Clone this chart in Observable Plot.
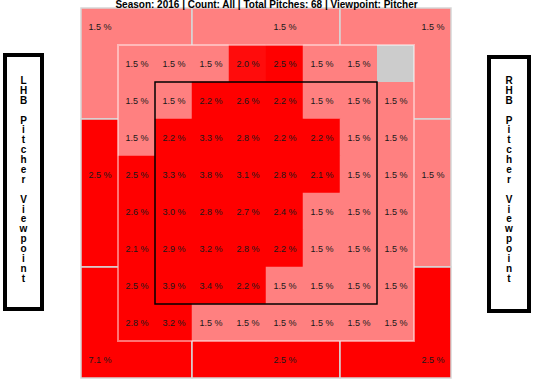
<!DOCTYPE html>
<html>
<head>
<meta charset="utf-8">
<script src="https://cdn.jsdelivr.net/npm/d3@7"></script>
<script src="https://cdn.jsdelivr.net/npm/@observablehq/plot@0.6"></script>
<style>
  html, body { margin: 0; padding: 0; background: #fff; }
  #wrap { position: relative; width: 540px; height: 385px; overflow: hidden; font-family: "Liberation Sans", Arial, sans-serif; }
  #chart { position: absolute; left: 0; top: 0; }
  .side { position: absolute; box-sizing: border-box; border: 4px solid #000; background: #fff; }
  .side .txt { position: absolute; left: 0; right: 0; text-align: center; font-weight: bold; font-size: 10px; color: #000; }
  .side .txt span { display: block; height: 9.9px; line-height: 9.9px; }
</style>
</head>
<body>
<div id="wrap">
  <div id="chart"></div>
  <div class="side" id="leftBox" style="left:3px; top:53px; width:41px; height:258px;"><div class="txt" style="top:19px;"></div></div>
  <div class="side" id="rightBox" style="left:487px; top:55px; width:44px; height:258px;"><div class="txt" style="top:17px;"></div></div>
</div>
<script>
// ---- data ----
const titleText = "Season: 2016 | Count: All | Total Pitches: 68 | Viewpoint: Pitcher";
const leftLabel = "LHB Pitcher Viewpoint";
const rightLabel = "RHB Pitcher Viewpoint";

// inner 8x8 grid (rows top -> bottom), null = no data (grey)
const row0 = [1.5, 1.5, 1.5, 2.0, 2.5, 1.5, 1.5, null];
const row1 = [1.5, 1.5, 2.2, 2.6, 2.2, 1.5, 1.5, 1.5];
const row2 = [1.5, 2.2, 3.3, 2.8, 2.2, 2.2, 1.5, 1.5];
const row3 = [2.5, 3.3, 3.8, 3.1, 2.8, 2.1, 1.5, 1.5];
const row4 = [2.6, 3.0, 2.8, 2.7, 2.4, 1.5, 1.5, 1.5];
const row5 = [2.1, 2.9, 3.2, 2.8, 2.2, 1.5, 1.5, 1.5];
const row6 = [2.5, 3.9, 3.4, 2.2, 1.5, 1.5, 1.5, 1.5];
const row7 = [2.8, 3.2, 1.5, 1.5, 1.5, 1.5, 1.5, 1.5];
const innerRows = [row0, row1, row2, row3, row4, row5, row6, row7];

// outer zones: 3x3 layout around the grid (centre hidden)
const outerBreaks = [-1, 2, 6, 9];
const outerLabelX = [-0.5, 4.5, 8.5];
const outerLabelY = [-0.5, 3.5, 8.5];
const outerZones = [
  {name: "TL", col: 0, row: 0, v: 1.5},
  {name: "TM", col: 1, row: 0, v: 1.5},
  {name: "TR", col: 2, row: 0, v: 1.5},
  {name: "ML", col: 0, row: 1, v: 2.5},
  {name: "MR", col: 2, row: 1, v: 1.5},
  {name: "BL", col: 0, row: 2, v: 7.1},
  {name: "BM", col: 1, row: 2, v: 2.5},
  {name: "BR", col: 2, row: 2, v: 2.5}
];
// strike zone in grid cell indices
const zoneCols = [1, 7];
const zoneRows = [1, 7];

// ---- build tables ----
const cells = [];
innerRows.forEach((r, i) => r.forEach((v, j) => cells.push({i, j, v})));
const nRows = innerRows.length, nCols = innerRows[0].length;
const outer = outerZones.map(z => ({
  ...z,
  x1: outerBreaks[z.col], x2: outerBreaks[z.col + 1],
  y1: outerBreaks[z.row], y2: outerBreaks[z.row + 1],
  lx: outerLabelX[z.col], ly: outerLabelY[z.row]
}));
const fmt = v => v.toFixed(1) + " %";
const font = "Liberation Sans, Arial, sans-serif";

const chart = Plot.plot({
  width: 540,
  height: 385,
  marginLeft: 81,
  marginRight: 89,
  marginTop: 8,
  marginBottom: 7,
  x: {domain: [-1, 9], axis: null},
  y: {domain: [-1, 9], reverse: true, axis: null},
  color: {type: "linear", domain: [1.5, 2.05], range: ["#ff8080", "#ff0000"], clamp: true},
  style: {fontFamily: font, background: "transparent"},
  marks: [
    Plot.rect(outer, {x1: "x1", x2: "x2", y1: "y1", y2: "y2", fill: "v", stroke: "#d6d6d6", strokeWidth: 1.5}),
    Plot.text(outer, {x: "lx", y: "ly", text: d => fmt(d.v), fontSize: 9, fill: "#1a1a1a"}),
    Plot.rect(cells.filter(d => d.v != null), {x1: "j", x2: d => d.j + 1, y1: "i", y2: d => d.i + 1, fill: "v", stroke: "v", strokeWidth: 0.5}),
    Plot.rect(cells.filter(d => d.v == null), {x1: "j", x2: d => d.j + 1, y1: "i", y2: d => d.i + 1, fill: "#cccccc"}),
    Plot.rect([{}], {x1: 0, x2: nCols, y1: 0, y2: nRows, fill: "none", stroke: "#ffffff", strokeOpacity: 0.45, strokeWidth: 2}),
    Plot.rect([{}], {x1: zoneCols[0], x2: zoneCols[1], y1: zoneRows[0], y2: zoneRows[1], fill: "none", stroke: "#000", strokeWidth: 1.5}),
    Plot.text(cells.filter(d => d.v != null), {x: d => d.j + 0.5, y: d => d.i + 0.5, text: d => fmt(d.v), fontSize: 9, fill: "#1a1a1a"}),
    Plot.text([titleText], {frameAnchor: "top", text: d => d, lineAnchor: "bottom", dy: -0.5, fontSize: 10, fontWeight: "bold", fill: "#000"})
  ]
});
document.getElementById("chart").appendChild(chart);

function stack(el, s) {
  el.innerHTML = "";
  for (const ch of s) {
    const sp = document.createElement("span");
    sp.textContent = ch === " " ? "\u00a0" : ch;
    el.appendChild(sp);
  }
}
stack(document.querySelector("#leftBox .txt"), leftLabel);
stack(document.querySelector("#rightBox .txt"), rightLabel);
</script>
</body>
</html>
